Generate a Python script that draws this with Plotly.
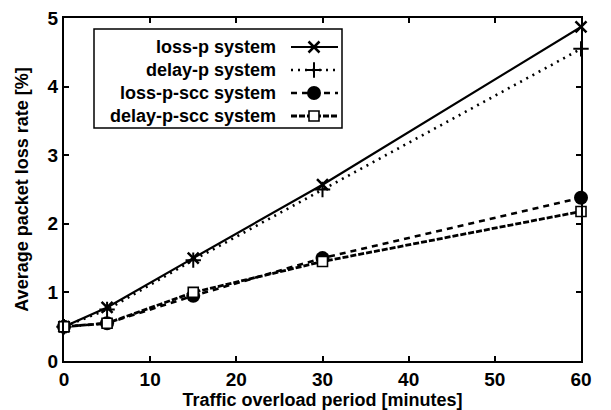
import plotly.graph_objects as go

# ---- data ----
minutes = [0, 5, 15, 30, 60]
loss_p = [0.5, 0.78, 1.5, 2.57, 4.87]
delay_p = [0.5, 0.75, 1.47, 2.5, 4.55]
loss_p_scc = [0.5, 0.55, 0.95, 1.5, 2.38]
delay_p_scc = [0.5, 0.55, 1.0, 1.45, 2.18]
series_names = ["loss-p system", "delay-p system", "loss-p-scc system", "delay-p-scc system"]
x_ticks = [0, 10, 20, 30, 40, 50, 60]
y_ticks = [0, 1, 2, 3, 4, 5]
x_title = "Traffic overload period [minutes]"
y_title = "Average packet loss rate [%]"

FONT = "Liberation Sans, Arial, sans-serif"

styles = [
    dict(line=dict(color="black", width=2.2, dash="solid"),
         marker=dict(symbol="x-thin", size=11, line=dict(color="black", width=2.5), color="black")),
    dict(line=dict(color="black", width=2.6, dash="2px,5px"),
         marker=dict(symbol="cross-thin", size=11, line=dict(color="black", width=2), color="black")),
    dict(line=dict(color="black", width=2.6, dash="6px,5px"),
         marker=dict(symbol="circle", size=14, color="black", line=dict(width=0))),
    dict(line=dict(color="black", width=2.8, dash="6px,2px"),
         marker=dict(symbol="square", size=10, color="white", line=dict(color="black", width=1.6))),
]
series = [loss_p, delay_p, loss_p_scc, delay_p_scc]

fig = go.Figure()
for name, ys, st in zip(series_names, series, styles):
    fig.add_trace(go.Scatter(x=minutes, y=ys, mode="lines+markers", name=name,
                             line=st["line"], marker=st["marker"], showlegend=False,
                             cliponaxis=False))

# ---- custom legend (text left, sample right), drawn in pixel-like overlay axes ----
PL, PR, PT, PB = 64, 581, 18, 361
row_y = [47, 70, 93, 116]
for name, yy, st in zip(series_names, row_y, styles):
    fig.add_trace(go.Scatter(x=[291, 314, 338], y=[yy, yy, yy], xaxis="x2", yaxis="y2",
                             mode="lines", line=st["line"], showlegend=False, hoverinfo="skip"))
    fig.add_trace(go.Scatter(x=[314], y=[yy], xaxis="x2", yaxis="y2",
                             mode="markers", marker=st["marker"], showlegend=False, hoverinfo="skip"))
    fig.add_annotation(x=278, y=yy, xref="x2", yref="y2", text=name, showarrow=False,
                       xanchor="right", yanchor="middle",
                       font=dict(family=FONT, size=18, color="black", weight="bold"))
fig.add_shape(type="rect", x0=94, x1=342, y0=29, y1=128, xref="x2", yref="y2",
              line=dict(color="black", width=1.5), fillcolor="rgba(0,0,0,0)")

axis_common = dict(showline=True, linecolor="black", linewidth=2, mirror="ticks",
                   ticks="inside", ticklen=5, tickwidth=1.5, tickcolor="black",
                   showgrid=False, zeroline=False, automargin=False,
                   tickfont=dict(family=FONT, size=19, color="black", weight="bold"))

fig.update_layout(
    width=611, height=410,
    margin=dict(l=PL, r=611 - PR, t=PT, b=410 - PB),
    paper_bgcolor="white", plot_bgcolor="white",
    xaxis=dict(range=[0, 60], tickvals=x_ticks, ticktext=[str(v) for v in x_ticks],
               title=dict(text=x_title, standoff=2,
                          font=dict(family=FONT, size=18, color="black", weight="bold")),
               **axis_common),
    yaxis=dict(range=[0, 5], tickvals=y_ticks, ticktext=[str(v) for v in y_ticks],
               title=dict(text=y_title, standoff=14,
                          font=dict(family=FONT, size=18, color="black", weight="bold")),
               **axis_common),
    xaxis2=dict(overlaying="x", range=[PL, PR], visible=False, fixedrange=True),
    yaxis2=dict(overlaying="y", range=[PB, PT], visible=False, fixedrange=True),
    showlegend=False,
)

fig.write_html("out.html")
